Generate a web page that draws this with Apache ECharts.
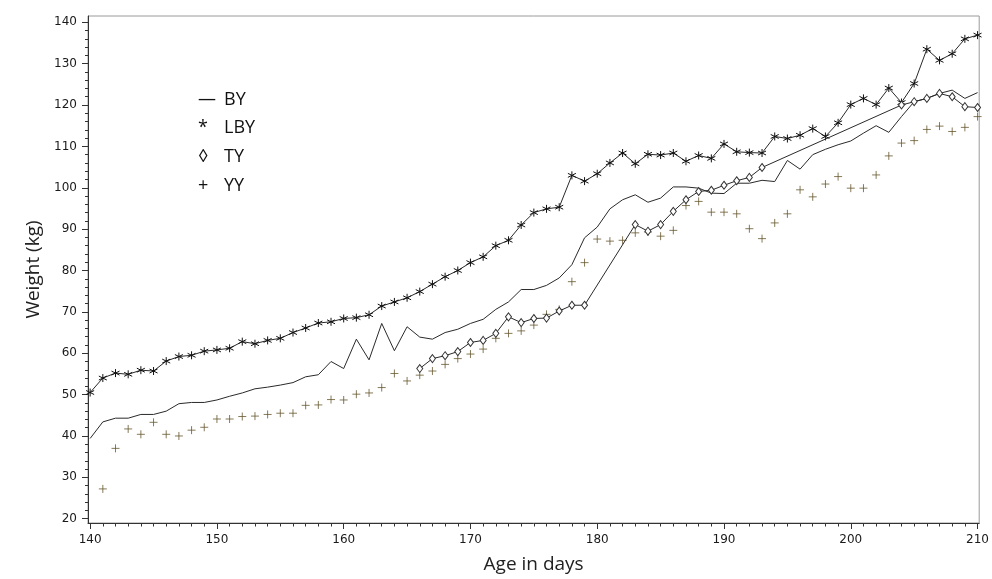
<!DOCTYPE html>
<html>
<head>
<meta charset="utf-8">
<script src="https://cdn.jsdelivr.net/npm/echarts@6/dist/echarts.min.js"></script>
<style>
html,body{margin:0;padding:0;background:#fff;}
#chart{width:992px;height:579px;}
</style>
</head>
<body>
<div id="chart"></div>
<script>
// ---- data ----
var days = [];
for (var d = 140; d <= 210; d++) days.push(d);

var byWeight = [39.4,43.4,44.3,44.3,45.2,45.2,46.0,47.8,48.1,48.1,
  48.7,49.6,50.4,51.4,51.8,52.3,52.9,54.3,54.8,58.0,
  56.3,63.4,58.4,67.2,60.6,66.4,63.9,63.4,65.0,65.8,
  67.2,68.2,70.6,72.4,75.4,75.4,76.4,78.2,81.4,87.9,
  90.5,94.9,97.1,98.3,96.5,97.5,100.2,100.2,99.9,98.7,
  98.6,101.1,101.1,101.8,101.5,106.6,104.5,108.0,109.3,110.4,
  111.3,113.2,115.0,113.4,117.2,120.8,121.6,122.8,123.6,121.6,123.0];

var lbyWeight = [50.5,54.0,55.2,54.9,55.9,55.7,58.1,59.2,59.5,60.5,
  60.8,61.2,62.8,62.3,63.1,63.6,65.0,66.1,67.3,67.6,
  68.4,68.6,69.3,71.4,72.4,73.4,74.9,76.7,78.5,80.0,
  81.9,83.3,86.0,87.3,91.0,94.0,94.9,95.3,103.0,101.6,
  103.4,106.0,108.4,105.8,108.1,107.9,108.4,106.4,107.8,107.1,
  110.6,108.7,108.5,108.4,112.4,111.9,112.7,114.3,112.4,115.7,
  120.1,121.6,120.1,124.1,120.6,125.2,133.5,130.8,132.4,136.0,136.9];

var tyWeight = [null,null,null,null,null,null,null,null,null,null,
  null,null,null,null,null,null,null,null,null,null,
  null,null,null,null,null,null,56.3,58.7,59.4,60.4,
  62.6,63.1,64.8,68.8,67.4,68.4,68.5,70.2,71.6,71.6,
  null,null,null,91.1,89.5,91.1,94.3,97.1,99.1,99.4,
  100.6,101.7,102.5,104.9,null,null,null,null,null,null,
  null,null,null,null,120.0,120.8,121.6,122.8,122.0,119.6,119.4];

var yyWeight = [null,27.2,37.0,41.7,40.4,43.3,40.4,40.0,41.4,42.1,
  44.1,44.1,44.7,44.8,45.2,45.5,45.5,47.4,47.5,48.8,
  48.7,50.1,50.4,51.7,55.1,53.3,54.7,55.7,57.3,58.7,
  59.8,61.0,63.6,64.8,65.4,66.8,69.4,70.6,77.3,81.9,
  87.6,87.1,87.3,89.1,89.3,88.3,89.7,95.7,96.7,94.1,
  94.1,93.7,90.1,87.7,91.5,93.7,99.5,97.8,100.9,102.7,
  99.9,99.9,103.1,107.7,110.8,111.4,114.1,114.9,113.6,114.6,117.2];

var xTicks = [140,150,160,170,180,190,200,210];
var yTicks = [20,30,40,50,60,70,80,90,100,110,120,130,140];
var legendNames = ['BY','LBY','TY','YY'];
var legendGlyphs = ['\u2014','*','\u25CA','+'];

// ---- build ----
function pairs(arr){ return days.map(function(d,i){ return [d, arr[i]]; }); }
var xMinor = []; for (var i = 140; i <= 210; i++) xMinor.push(i);
var yMinor = []; for (var j = 20; j <= 140; j += 2) yMinor.push(j);

var axisColor = '#333';
var labelFont = {fontFamily:'DejaVu Sans', fontSize:12, color:'#1a1a1a'};
var titleFont = {fontFamily:'Open Sans', fontSize:19, color:'#222'};

var asterisk = 'path://M5,0L5,10M0.67,2.5L9.33,7.5M0.67,7.5L9.33,2.5';
var plus = 'path://M0,5L10,5M5,0L5,10';

var chart = echarts.init(document.getElementById('chart'), null, {renderer:'canvas'});

var graphics = [];
legendNames.forEach(function(n, k){
  var yy = 102.5 + k*28.7;
  graphics.push({type:'text', left:198, top:yy-12, style:{text:legendGlyphs[k], font:'18px "Open Sans","DejaVu Sans"', fill:'#111'}});
  graphics.push({type:'text', left:224, top:yy-12, style:{text:n, font:'18px "Open Sans"', fill:'#111'}});
});

chart.setOption({
  animation:false,
  backgroundColor:'#fff',
  grid:{left:88, right:9, top:16, bottom:55, show:true, borderColor:'#9a9a9a', borderWidth:1, containLabel:false},
  xAxis:[{
    type:'value', min:139.83, max:210.13,
    name:'Age in days', nameLocation:'middle', nameGap:32, nameTextStyle:titleFont,
    axisLine:{show:true, onZero:false, lineStyle:{color:axisColor, width:1}},
    axisTick:{show:true, inside:false, length:6, customValues:xTicks, lineStyle:{color:axisColor}},
    axisLabel:{show:true, margin:11, customValues:xTicks, fontFamily:labelFont.fontFamily, fontSize:labelFont.fontSize, color:labelFont.color},
    splitLine:{show:false}
  },{
    type:'value', min:139.83, max:210.13, position:'bottom',
    axisLine:{show:false, onZero:false},
    axisTick:{show:true, inside:false, length:3.5, customValues:xMinor, lineStyle:{color:axisColor}},
    axisLabel:{show:false},
    splitLine:{show:false}
  }],
  yAxis:[{
    type:'value', min:18.96, max:141.52,
    name:'Weight (kg)', nameLocation:'middle', nameGap:44, nameTextStyle:titleFont,
    axisLine:{show:true, onZero:false, lineStyle:{color:axisColor, width:1}},
    axisTick:{show:true, inside:false, length:6, customValues:yTicks, lineStyle:{color:axisColor}},
    axisLabel:{show:true, margin:11, customValues:yTicks, fontFamily:labelFont.fontFamily, fontSize:labelFont.fontSize, color:labelFont.color},
    splitLine:{show:false}
  },{
    type:'value', min:18.96, max:141.52, position:'left',
    axisLine:{show:false, onZero:false},
    axisTick:{show:true, inside:false, length:3, customValues:yMinor, lineStyle:{color:axisColor}},
    axisLabel:{show:false},
    splitLine:{show:false}
  }],
  graphic:graphics,
  series:[
    {name:'BY', type:'line', data:pairs(byWeight), symbol:'none', connectNulls:true,
     lineStyle:{color:'#2a2a2a', width:1}, itemStyle:{color:'#2a2a2a'}, z:2},
    {name:'LBY', type:'line', data:pairs(lbyWeight), symbol:asterisk, symbolSize:8, showSymbol:true,
     lineStyle:{color:'#2a2a2a', width:1},
     itemStyle:{color:'none', borderColor:'#111', borderWidth:1}, z:3},
    {name:'TY', type:'line', data:pairs(tyWeight), symbol:'diamond', symbolSize:[6,8], connectNulls:true, showSymbol:true,
     lineStyle:{color:'#2a2a2a', width:1},
     itemStyle:{color:'#fff', borderColor:'#333', borderWidth:1}, z:4},
    {name:'YY', type:'scatter', data:pairs(yyWeight), symbol:plus, symbolSize:8,
     itemStyle:{color:'none', borderColor:'#66582e', borderWidth:1}, z:1}
  ]
});
</script>
</body>
</html>
